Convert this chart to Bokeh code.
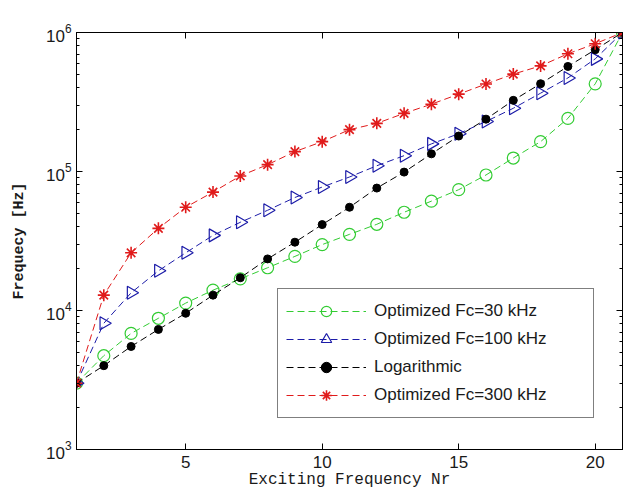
import numpy as np
from bokeh.plotting import figure
from bokeh.models import (Legend, LegendItem, LinearAxis, LogAxis, FixedTicker,
                          LogTicker, Range1d)
from bokeh.embed import file_html
from bokeh.resources import INLINE

# ---- data ----
nr = list(range(1, 22))
fc30 = [3000, 4730, 6840, 8790, 11300, 14000, 16900, 20300, 24500, 29800, 35300,
        41700, 50900, 61200, 74000, 94400, 125000, 164000, 241000, 427000, 1000000]
fc100 = [3000, 8090, 13400, 19300, 26000, 34700, 43100, 52600, 65000, 77300, 91300,
         110000, 130000, 158000, 187000, 229000, 285000, 366000, 471000, 646000, 1000000]
logarithmic = [3000, 4010, 5510, 7310, 9550, 12900, 17200, 23500, 31000, 41500, 55300,
               76000, 99000, 134000, 180000, 238000, 325000, 428000, 570000, 752000, 1000000]
fc300 = [3000, 12900, 26000, 39000, 55300, 71100, 92900, 112000, 139000, 164000, 200000,
         222000, 262000, 305000, 360000, 426000, 502000, 575000, 703000, 830000, 1000000]

labels = ["Optimized Fc=30 kHz", "Optimized Fc=100 kHz", "Logarithmic", "Optimized Fc=300 kHz"]
x_ticks = [5, 10, 15, 20]

GREEN = "#33cc33"
BLUE = "#1c1ca8"
BLACK = "#000000"
RED = "#e01b1b"

TICK_FONT = "Liberation Sans"
LABEL_FONT = "Liberation Mono"

p = figure(width=628, height=491, y_axis_type="log",
           x_range=Range1d(1, 21), y_range=Range1d(1e3, 1e6),
           output_backend="svg", toolbar_location=None,
           min_border_left=76, min_border_right=6, min_border_top=32,
           min_border_bottom=10)

p.xgrid.visible = False
p.ygrid.visible = False
p.outline_line_color = "black"
p.outline_line_width = 1
p.background_fill_color = "white"

# bottom axis
xa = p.xaxis[0]
xa.ticker = FixedTicker(ticks=x_ticks)
xa.axis_label = "Exciting Frequency Nr"
# left axis
ya = p.yaxis[0]
ya.ticker = LogTicker(num_minor_ticks=10)
ya.axis_label = "Frequecy [Hz]"

for ax in (xa, ya):
    ax.major_tick_in = 6
    ax.major_tick_out = 0
    ax.minor_tick_in = 3
    ax.minor_tick_out = 0
    ax.axis_line_color = "black"
    ax.major_tick_line_color = "black"
    ax.minor_tick_line_color = "black"
    ax.major_label_text_font = TICK_FONT
    ax.major_label_text_font_size = "17px"
    ax.major_label_text_color = "#1a1a1a"
    ax.axis_label_text_font = LABEL_FONT
    ax.axis_label_text_font_style = "normal"
    ax.axis_label_text_color = "#1a1a1a"
xa.minor_tick_in = 0
xa.major_label_standoff = 6
xa.axis_label_standoff = 0
xa.axis_label_text_font_size = "16px"
ya.major_label_standoff = 5
ya.axis_label_standoff = 15
ya.axis_label_text_font_size = "15px"
ya.axis_label_text_font_style = "bold"

# mirrored box axes (top / right), ticks only
top = LinearAxis(ticker=FixedTicker(ticks=x_ticks))
right = LogAxis(ticker=LogTicker(num_minor_ticks=10))
for ax in (top, right):
    ax.major_tick_in = 6
    ax.major_tick_out = 0
    ax.minor_tick_in = 3
    ax.minor_tick_out = 0
    ax.major_label_text_font_size = "1px"
    ax.major_label_text_color = None
    ax.major_label_standoff = 0
    ax.axis_line_color = "black"
top.minor_tick_in = 0
p.add_layout(top, "above")
p.add_layout(right, "right")

DASH = "7 4"

l1 = p.line(nr, fc30, line_color=GREEN, line_dash=DASH, line_width=1)
s1 = p.scatter(nr, fc30, marker="circle", size=12, fill_color=None,
               line_color=GREEN, line_width=1.2)
l2 = p.line(nr, fc100, line_color=BLUE, line_dash=DASH, line_width=1)
s2 = p.scatter(nr, fc100, marker="triangle", angle=-np.pi / 2, size=13,
               fill_color=None, line_color=BLUE, line_width=1.2)
l3 = p.line(nr, logarithmic, line_color=BLACK, line_dash=DASH, line_width=1)
s3 = p.scatter(nr, logarithmic, marker="circle", size=8, fill_color=BLACK,
               line_color=BLACK)
l4 = p.line(nr, fc300, line_color=RED, line_dash=DASH, line_width=1)
s4 = p.scatter(nr, fc300, marker="asterisk", size=12, line_color=RED, line_width=1.6)

legend = Legend(items=[
    LegendItem(label=labels[0], renderers=[l1, s1]),
    LegendItem(label=labels[1], renderers=[l2, s2]),
    LegendItem(label=labels[2], renderers=[l3, s3]),
    LegendItem(label=labels[3], renderers=[l4, s4]),
], location=(201, 31))
legend.border_line_color = "black"
legend.border_line_width = 1
legend.background_fill_color = "white"
legend.background_fill_alpha = 1
legend.margin = 0
legend.padding = 8
legend.spacing = 0
legend.glyph_width = 80
legend.glyph_height = 26
legend.label_height = 28
legend.label_width = 211
legend.label_standoff = 8
legend.label_text_font = TICK_FONT
legend.label_text_font_size = "17px"
legend.label_text_color = "#1a1a1a"
p.add_layout(legend)

open("out.html", "w").write(file_html(p, INLINE))
